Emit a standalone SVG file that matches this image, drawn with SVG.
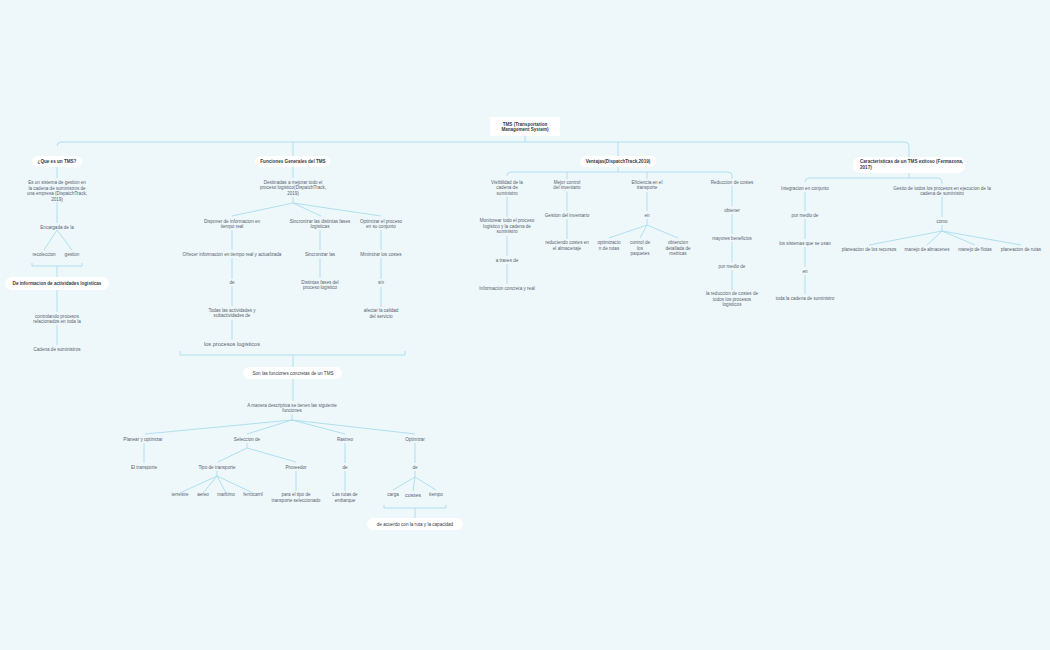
<svg xmlns="http://www.w3.org/2000/svg" width="1050" height="650" viewBox="0 0 1050 650">
<style>
text{font-family:"Liberation Sans",Arial,sans-serif;font-size:4.6px;fill:#5a6470;text-anchor:middle}
.b{font-weight:bold;fill:#333b48;font-size:4.6px}
.l{font-size:5.6px}
.c path,.c line{stroke:#a8dcef;stroke-width:0.9;fill:none}
.pill{fill:#fff}
</style>
<rect width="1050" height="650" fill="#eef7fa"/>
<g class="c">
<path d="M525 136V142M61 142H905Q909 142 909 146V157M57 146Q57 142 61 142M293 142V157M618 142V157"/>
<path d="M57 166V178M57 202V223M57 230L44 250M57 230L72 250M32 263V266H82V263M57 266V278M57 289V312M57 325V345"/>
<path d="M293 166V178M293 197V203L232 216M293 203L321 216M293 203L381 216M232 230V250M232 258V279M232 286V306M232 320V340M320 230V250M320 258V278M381 230V250M381 258V279M381 287V307"/>
<path d="M180 351V355H405V351M293 355V368M293 378V401M292 414V420L145 434M292 420L247 434M292 420L345 434M292 420L415 434"/>
<path d="M144 443V463M247 443V448L218 462M247 448L296 462M217 471V476L180 493M217 476L203 493M217 476L226 493M217 476L253 493M296 471V491M345 443V463M345 471V491M415 443V463M415 471V477L393 490M415 477L413 491M415 477L436 490M384 505V508H446V505M415 508V519"/>
<path d="M618 166V172M511 172H728Q732 172 732 176V179M507 176Q507 172 511 172M567 172V179M647 172V179M507 197V217M507 236V256M507 264V284M567 192V211M567 219V239M647 192V211M647 219V225L609 238M647 225L640 238M647 225L678 238M732 186V206M732 214V234M732 242V262M732 270V290"/>
<path d="M909 173V178M809 178H938Q942 178 942 182V184M805 182Q805 178 809 178M805 192V211M805 219V239M805 247V267M805 275V294M942 197V217M942 225V231L869 245M942 231L927 245M942 231L975 245M942 231L1021 245"/>
</g>
<g id="root"><rect x="490" y="117" width="70" height="19" fill="#fff"/><text class="b" x="525" y="125.5">TMS (Transportation</text><text class="b" x="525" y="131">Management System)</text></g>
<g id="n1"><rect class="pill" x="32" y="156" width="50" height="11" rx="6"/><text class="b" x="57" y="163">¿Que es un TMS?</text></g>
<g id="n2"><rect class="pill" x="255" y="156" width="75" height="11" rx="6"/><text class="b" x="293" y="163">Funciones Generales del TMS</text></g>
<g id="n3"><rect class="pill" x="580" y="156" width="76" height="11" rx="6"/><text class="b" x="618" y="163">Ventajas(DispatchTrack,2019)</text></g>
<g id="n4"><rect class="pill" x="853" y="157" width="112" height="16" rx="7"/><text class="b" x="860" y="163" style="text-anchor:start">Caracteristicas de un TMS exitoso (Fermazona,</text><text class="b" x="860" y="169" style="text-anchor:start">2017)</text></g>
<g id="left">
<text x="57" y="184">Es un sistema de gestion en</text><text x="57" y="189.5">la cadena de suministros de</text><text x="57" y="195">una empresa  (DispatchTrack,</text><text x="57" y="200.5">2019)</text>
<text x="57" y="228.5">Encargada de la</text><text x="44" y="255.5">recoleccion</text><text x="72" y="255.5">gestion</text>
<rect class="pill" x="5" y="277" width="104" height="13" rx="7"/><text class="b" x="57" y="285">De informacion de actividades logisticas</text>
<text x="57" y="317.5">controlando procesos</text><text x="57" y="322.5">relacionados en toda la</text><text x="57" y="350.5">Cadena de suministros</text>
</g>
<g id="func">
<text x="293" y="183.5">Destinadas a mejorar todo el</text><text x="293" y="189">proceso logistico(DispatchTrack,</text><text x="293" y="194.5">2019)</text>
<text x="232" y="222.5">Disponer de informacion en</text><text x="232" y="228">tiempo real</text>
<text x="232" y="255.5">Ofrecer informacion en tiempo real y actualizada</text><text x="232" y="284">de</text>
<text x="232" y="311.5">Todas las actividades y</text><text x="232" y="317">subactividades de</text><text class="l" x="232" y="346">los procesos logisticos</text>
<text x="320" y="222.5">Sincronizar las distintas fases</text><text x="320" y="228">logisticas</text><text x="320" y="255.5">Sincronizar las</text>
<text x="320" y="283.5">Distintas fases del</text><text x="320" y="289">proceso logistico</text>
<text x="381" y="222.5">Optimizar el proceso</text><text x="381" y="228">en su conjunto</text><text x="381" y="255.5">Minimizar los costes</text>
<text x="381" y="284">sin</text><text x="381" y="312">afectar la calidad</text><text x="381" y="317.5">del servicio</text>
<rect class="pill" x="243" y="367" width="99" height="12" rx="6"/><text x="293" y="374.5" style="fill:#333b48">Son las funciones concretas de un TMS</text>
<text x="292" y="406.5">A manera descriptiva se tienen las siguiente</text><text x="292" y="412">funciones</text>
<text x="143" y="440.5">Planear y optimizar</text><text x="144" y="468.5">El transporte</text>
<text x="247" y="440.5">Seleccion de</text><text x="217" y="468.5">Tipo de transporte</text>
<text x="180" y="496">terrestre</text><text x="203" y="496">aereo</text><text x="226" y="496">maritimo</text><text x="253" y="496">ferrocarril</text>
<text x="296" y="468.5">Proveedor</text><text x="296" y="496">para el tipo de</text><text x="296" y="501.5">transporte seleccionado</text>
<text x="345" y="440.5">Rastreo</text><text x="345" y="468.5">de</text><text x="345" y="496">Las rutas de</text><text x="345" y="501.5">embarque</text>
<text x="415" y="440.5">Optimizar</text><text x="415" y="468.5">de</text>
<text x="393" y="495.5">carga</text><text class="l" x="413" y="496.5">costes</text><text x="436" y="495.5">tiempo</text>
<rect class="pill" x="367" y="518" width="96" height="12" rx="6"/><text x="415" y="525.5" style="fill:#333b48">de acuerdo con la ruta y la capacidad</text>
</g>
<g id="vent">
<text x="507" y="183.5">Visibilidad de la</text><text x="507" y="189">cadena de</text><text x="507" y="194.5">suministro</text>
<text x="507" y="222">Monitorear todo el proceso</text><text x="507" y="227.5">logistico y la cadena de</text><text x="507" y="233">suministro</text>
<text x="507" y="261.5">a traves de</text><text x="507" y="289.5">Informacion concreta y real</text>
<text x="567" y="183.5">Mejor control</text><text x="567" y="189">del inventario</text><text x="567" y="216.5">Gestion del inventario</text>
<text x="567" y="244">reduciendo costes en</text><text x="567" y="249.5">el almacenaje</text>
<text x="647" y="183.5">Eficiencia en el</text><text x="647" y="189">transporte</text><text x="647" y="216.5">en</text>
<text x="609" y="244">optimizacio</text><text x="609" y="249.5">n de rutas</text>
<text x="640" y="244">control de</text><text x="640" y="249.5">los</text><text x="640" y="255">paquetes</text>
<text x="678" y="244">obtencion</text><text x="678" y="249.5">detallada de</text><text x="678" y="255">metricas</text>
<text x="732" y="183.5">Reduccion de costes</text><text x="732" y="211.5">obtener</text><text x="732" y="239.5">mayores beneficios</text><text x="732" y="267.5">por medio de</text>
<text x="732" y="295">la reduccion de costes de</text><text x="732" y="300.5">todos los procesos</text><text x="732" y="306">logisticos</text>
</g>
<g id="carac">
<text x="805" y="189.5">Integracion en conjunto</text><text x="805" y="216.5">por medio de</text><text x="805" y="244.5">los sistemas que se usan</text><text x="805" y="272.5">en</text><text x="805" y="299.5">toda la cadena de suministro</text>
<text x="942" y="189.5">Gestio de todos los procesos en ejecucion de la</text><text x="942" y="195">cadena de suministro</text><text x="942" y="222.5">como</text>
<text x="869" y="250.5">planeacion de los recursos</text><text x="927" y="250.5">manejo de almacenes</text><text x="975" y="250.5">manejo de flotas</text><text x="1021" y="250.5">planeacion de rutas</text>
</g>
</svg>
